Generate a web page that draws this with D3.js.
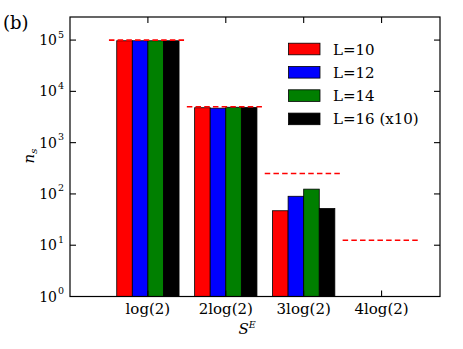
<!DOCTYPE html>
<html lang="en">
<head>
    <meta charset="UTF-8">
    <title>n_s vs S^E</title>
    <script src="https://cdn.jsdelivr.net/npm/d3@7"></script>
    <style>
        body { margin: 0; background: #fff; }
        text { font-family: 'DejaVu Serif', serif; fill: #000; }
    </style>
</head>
<body>
    <svg id="chart" width="463" height="349"></svg>
    <script>
        // data
        const categories = ["log(2)", "2log(2)", "3log(2)", "4log(2)"];
        const seriesNames = ["L=10", "L=12", "L=14", "L=16 (x10)"];
        const seriesColors = ["#ff0000", "#0000ff", "#007f00", "#000000"];
        const L10 = [97000, 4800, 47, 0];
        const L12 = [97000, 4700, 90, 0];
        const L14 = [97000, 4900, 124, 0];
        const L16 = [97000, 4850, 52, 0];
        const expected = [100000, 5000, 250, 12.5];
        const yTicks = [0, 1, 2, 3, 4, 5];

        const series = [L10, L12, L14, L16];

        const svg = d3.select("#chart");
        const mLeft = 70, mRight = 440, mTop = 17, mBottom = 296.5;

        const x = d3.scaleLinear().domain([0, 4.75]).range([mLeft, mRight]);
        const y = d3.scaleLog().domain([1, Math.pow(10, 5.45)]).range([mBottom, mTop]);

        // bars
        const barW = 0.2;
        series.forEach((vals, si) => {
            svg.append("g").selectAll("rect")
                .data(vals.map((v, i) => ({ v: v, i: i })).filter(d => d.v > 0))
                .enter().append("rect")
                .attr("x", d => x(d.i + 1 - 0.4 + barW * si))
                .attr("width", x(barW) - x(0))
                .attr("y", d => y(d.v))
                .attr("height", d => mBottom - y(d.v))
                .attr("fill", seriesColors[si])
                .attr("stroke", "#000")
                .attr("stroke-width", 0.8);
        });

        // expected values (dashed)
        svg.append("g").selectAll("line")
            .data(expected)
            .enter().append("line")
            .attr("x1", (d, i) => x(i + 1 - 0.5))
            .attr("x2", (d, i) => x(i + 1 + 0.5))
            .attr("y1", d => y(d))
            .attr("y2", d => y(d))
            .attr("stroke", "#ff0000")
            .attr("stroke-width", 1.6)
            .attr("stroke-dasharray", "5.5,3.2");

        // frame
        svg.append("rect")
            .attr("x", mLeft).attr("y", mTop)
            .attr("width", mRight - mLeft).attr("height", mBottom - mTop)
            .attr("fill", "none").attr("stroke", "#000").attr("stroke-width", 1.2);

        // ticks pointing inward
        const tl = 6;
        const ticks = svg.append("g").attr("stroke", "#000").attr("stroke-width", 1.1);
        yTicks.slice(1).forEach(e => {
            const yy = y(Math.pow(10, e));
            ticks.append("line").attr("x1", mLeft).attr("x2", mLeft + tl).attr("y1", yy).attr("y2", yy);
            ticks.append("line").attr("x1", mRight).attr("x2", mRight - tl).attr("y1", yy).attr("y2", yy);
        });
        categories.forEach((c, i) => {
            const xx = x(i + 1);
            ticks.append("line").attr("x1", xx).attr("x2", xx).attr("y1", mBottom).attr("y2", mBottom - tl);
            ticks.append("line").attr("x1", xx).attr("x2", xx).attr("y1", mTop).attr("y2", mTop + tl);
        });

        // y tick labels
        yTicks.forEach(e => {
            svg.append("text")
                .attr("x", 57).attr("y", y(Math.pow(10, e)) + 5)
                .attr("text-anchor", "end")
                .style("font-size", "14px")
                .text("10");
            svg.append("text")
                .attr("x", 58).attr("y", y(Math.pow(10, e)) - 2.5)
                .style("font-size", "9.5px")
                .text(e);
        });

        // x tick labels
        svg.append("g").selectAll("text")
            .data(categories)
            .enter().append("text")
            .attr("x", (d, i) => x(i + 1))
            .attr("y", 314)
            .attr("text-anchor", "middle")
            .style("font-size", "15px")
            .text(d => d);

        // axis labels
        const xl = svg.append("text").attr("x", 247).attr("y", 334)
            .attr("text-anchor", "middle").style("font-size", "15px");
        xl.append("tspan").style("font-style", "italic").text("S");
        xl.append("tspan").attr("dy", -6).style("font-size", "9.5px").style("font-style", "italic").text("E");

        const yl = svg.append("text")
            .attr("transform", "translate(34,156) rotate(-90)")
            .attr("text-anchor", "middle").style("font-size", "15px");
        yl.append("tspan").style("font-style", "italic").text("n");
        yl.append("tspan").attr("dy", 3).style("font-size", "10px").style("font-style", "italic").text("s");

        // panel label
        svg.append("text").attr("x", 3).attr("y", 29)
            .style("font-size", "18px").text("(b)");

        // legend
        const legend = svg.append("g");
        seriesNames.forEach((name, i) => {
            const ly = 49 + i * 23.3;
            legend.append("rect")
                .attr("x", 288.5).attr("y", ly - 5.8)
                .attr("width", 31.5).attr("height", 11.6)
                .attr("fill", seriesColors[i])
                .attr("stroke", "#000").attr("stroke-width", 0.8);
            legend.append("text")
                .attr("x", 333).attr("y", ly + 5.5)
                .style("font-size", "15px")
                .text(name);
        });
    </script>
</body>
</html>
